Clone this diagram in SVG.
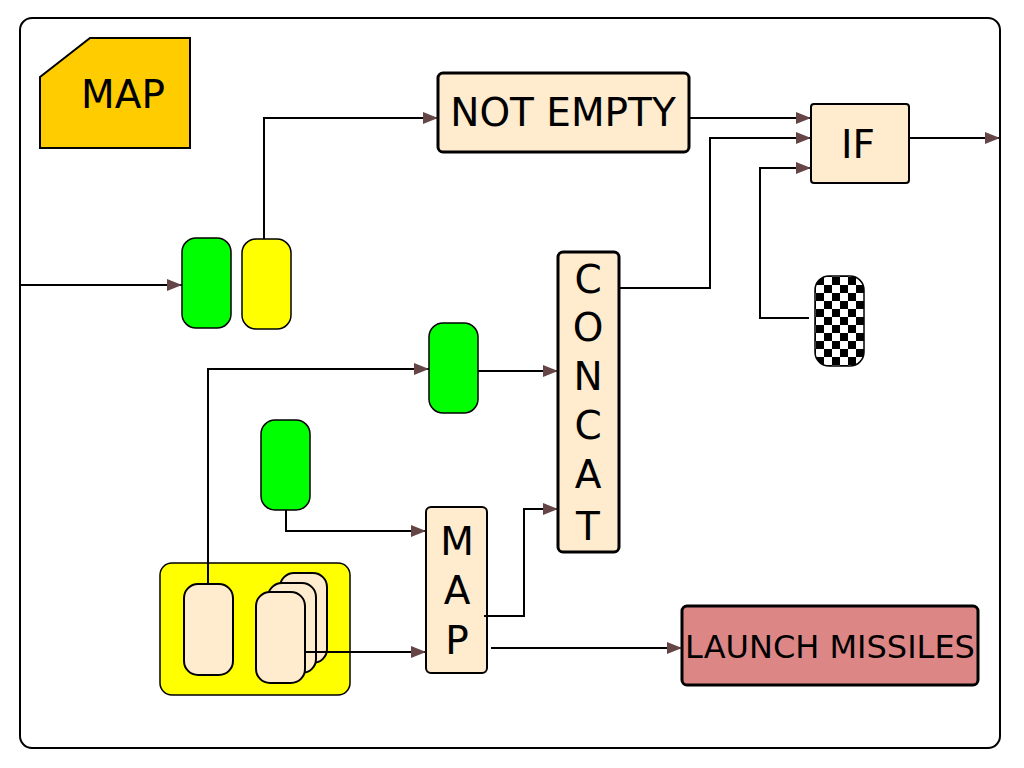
<svg xmlns="http://www.w3.org/2000/svg" width="1024" height="768" viewBox="0 0 1024 768">
<style>
.frame{fill:#fff;stroke:#000;stroke-width:2}
.cream{fill:#ffebcd;stroke:#000;stroke-width:2}
.thick{stroke-width:3}
.green{fill:#00ff00;stroke:#000;stroke-width:1.5}
.yellow{fill:#ffff00;stroke:#000;stroke-width:1.5}
.t{font-family:"DejaVu Sans","Liberation Sans",sans-serif;fill:#000;text-anchor:middle}
.c{fill:none;stroke:#000;stroke-width:2;marker-end:url(#arr)}
</style>
<defs>
<marker id="arr" markerWidth="16" markerHeight="14" refX="15" refY="7" orient="auto" markerUnits="userSpaceOnUse">
<path d="M0,1 L15,7 L0,13 z" fill="#654545"/>
</marker>
<pattern id="chk" x="816" y="277" width="16" height="16" patternUnits="userSpaceOnUse">
<rect width="16" height="16" fill="#fff"/>
<rect width="8" height="8" fill="#000"/>
<rect x="8" y="8" width="8" height="8" fill="#000"/>
</pattern>
</defs>
<rect class="frame" x="20" y="18" width="980" height="730" rx="12"/>
<g id="map-card">
<polygon points="40,77 90,38 190,38 190,148 40,148" fill="#ffcc00" stroke="#000" stroke-width="2"/>
<text class="t" x="123" y="108" font-size="39">MAP</text>
</g>
<g id="not-empty">
<rect class="cream thick" x="438" y="73" width="251" height="79" rx="5"/>
<text class="t" x="563" y="126" font-size="39">NOT EMPTY</text>
</g>
<g id="if">
<rect class="cream" x="811" y="104" width="98" height="79" rx="3" stroke-width="1.5"/>
<text class="t" x="858" y="158" font-size="39">IF</text>
</g>
<g id="checker">
<rect x="815" y="276" width="49" height="90" rx="14" fill="url(#chk)" stroke="#000" stroke-width="1.5"/>
</g>
<g id="green1"><rect class="green" x="182" y="238" width="49" height="90" rx="14"/></g>
<g id="yellow1"><rect class="yellow" x="242" y="239" width="49" height="90" rx="14"/></g>
<g id="green2"><rect class="green" x="429" y="323" width="49" height="90" rx="14"/></g>
<g id="green3"><rect class="green" x="261" y="420" width="49" height="90" rx="14"/></g>
<g id="concat">
<rect class="cream thick" x="558" y="252" width="61" height="300" rx="5"/>
<text class="t" font-size="39"><tspan x="588" y="293">C</tspan><tspan x="588" y="341">O</tspan><tspan x="588" y="390">N</tspan><tspan x="588" y="439">C</tspan><tspan x="588" y="488">A</tspan><tspan x="588" y="540">T</tspan></text>
</g>
<g id="map-v">
<rect class="cream" x="426" y="507" width="61" height="166" rx="5"/>
<text class="t" font-size="39"><tspan x="457" y="555">M</tspan><tspan x="457" y="604">A</tspan><tspan x="457" y="654">P</tspan></text>
</g>
<g id="launch">
<rect x="682" y="606" width="296" height="79" rx="5" fill="#dc8686" stroke="#000" stroke-width="3"/>
<text class="t" x="830" y="658" font-size="32">LAUNCH MISSILES</text>
</g>
<g id="container">
<rect x="160" y="563" width="190" height="132" rx="12" fill="#ffff00" stroke="#000" stroke-width="1.5"/>
<rect class="cream" x="184" y="584" width="49" height="91" rx="14" stroke-width="1.5"/>
<rect class="cream" x="280" y="573" width="47" height="90" rx="14" stroke-width="1.5"/>
<rect class="cream" x="268" y="583" width="48" height="90" rx="14" stroke-width="1.5"/>
<rect class="cream" x="256" y="592" width="49" height="91" rx="14" stroke-width="1.5"/>
</g>
<g id="connectors">
<path class="c" d="M20,285 H182"/>
<path class="c" d="M264,239 V118 H438"/>
<path class="c" d="M689,118 H811"/>
<path class="c" d="M619,288 H710 V138 H811"/>
<path class="c" d="M809,318 H760 V168 H811"/>
<path class="c" d="M909,138 H1000"/>
<path class="c" d="M478,371 H558"/>
<path class="c" d="M208,584 V369 H429"/>
<path class="c" d="M286,510 V531 H426"/>
<path class="c" d="M305,652 H426"/>
<path class="c" d="M484,616 H524 V509 H558"/>
<path class="c" d="M491,648 H682"/>
</g>
</svg>
